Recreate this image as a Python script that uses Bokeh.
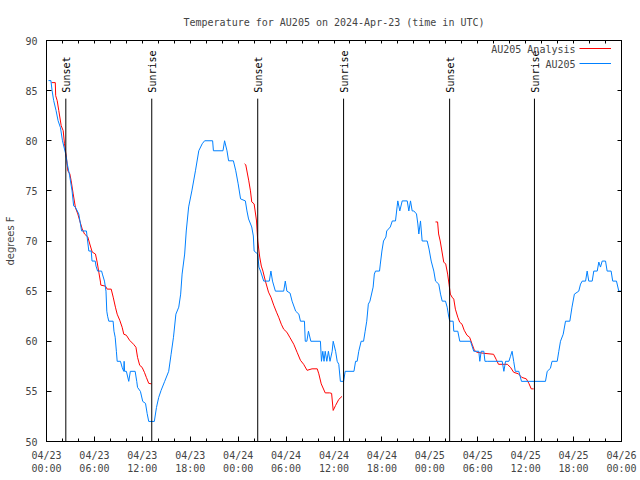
import numpy as np
from bokeh.plotting import figure
from bokeh.models import FixedTicker, LinearAxis, Range1d, Legend, LegendItem, Label
from bokeh.embed import file_html
from bokeh.resources import INLINE
from bokeh.core.properties import value

# hours since 2024-04-23 00:00 UTC
obs_hours = [0.25, 0.55, 0.7, 0.9, 1.2, 1.45, 1.75, 2.0, 2.4, 2.6, 2.9, 3.2, 3.4, 3.6, 4.04, 4.4, 5.0, 5.15,
             5.3, 5.6, 5.7, 6.1, 6.2, 6.4, 6.9, 7.0, 7.26, 7.45, 7.55, 7.65, 7.8, 8.34, 8.45, 8.6, 8.75, 8.85,
             9.26, 9.47, 9.67, 9.72, 9.78, 10.0, 10.3, 10.5, 11.1, 11.3, 11.4, 11.76, 12.05, 12.4, 12.6, 12.8,
             13.5, 13.77, 14.05, 14.35, 14.8, 15.3, 15.6, 15.9, 16.2, 16.56, 16.8, 16.98, 17.3, 17.5, 17.8,
             18.2, 18.65, 19.07, 19.5, 19.8, 20.8, 20.9, 22.1, 22.3, 22.6, 22.8, 23.4, 23.7, 24.0, 24.3, 24.9,
             25.1, 25.3, 25.7, 25.9, 26.0, 26.45, 26.6, 26.8, 27.2, 27.9, 28.1, 28.3, 28.66, 29.7, 29.9, 30.1,
             30.5, 30.75, 31.2, 31.6, 31.8, 32.3, 32.4, 32.6, 32.8, 33.1, 34.3, 34.43, 34.6, 34.75, 34.9, 35.1,
             35.3, 35.5, 35.77, 35.9, 36.2, 36.4, 36.6, 36.8, 37.2, 37.4, 38.5, 38.7, 38.9, 39.1, 39.4, 39.7,
             39.9, 40.1, 40.3, 40.5, 40.9, 41.05, 41.2, 41.7, 41.8, 42.0, 42.2, 42.5, 42.6, 43.05, 43.3, 43.7,
             43.9, 43.99, 44.24, 44.54, 45.17, 45.37, 45.58, 45.79, 45.99, 46.33, 46.5, 46.62, 46.83, 47.04,
             47.46, 47.67, 47.9, 48.17, 48.5, 48.71, 49.12, 49.34, 49.55, 49.96, 50.17, 50.38, 50.5, 50.92,
             51.0, 51.5, 51.75, 53.09, 53.5, 54.13, 54.26, 54.43, 54.76, 54.9, 55.18, 57.06, 57.27, 57.48,
             57.9, 58.1, 58.3, 58.5, 58.7, 59.14, 59.48, 62.48, 62.7, 63.1, 63.3, 63.95, 64.15, 64.36, 64.7,
             64.99, 65.53, 65.8, 66.1, 66.65, 66.87, 67.08, 67.5, 67.7, 67.9, 68.33, 68.53, 68.96, 69.16,
             69.37, 69.58, 70.0, 70.2, 70.7, 70.9, 71.37, 71.66, 71.95]
obs_temps = [86, 86, 85, 84, 83, 82, 81.3, 80, 78.7, 77.7, 76.5, 75, 73.5, 73.4, 72.7, 71, 71, 70,
             69, 69, 68, 68, 67.5, 67, 67, 66.7, 66, 65, 63, 62.5, 62, 62, 61, 60.4, 59, 58,
             58, 57.4, 57, 58, 57, 57, 56, 57, 57, 56, 55.4, 55, 54, 53.8, 52.8, 52,
             52, 53.4, 54.4, 55.1, 56, 57, 58.7, 60.4, 62.7, 63.4, 64.7, 66.7, 68.7, 71, 73.4,
             75, 77, 79, 79.7, 80, 80, 79, 79, 80, 79, 78, 78, 77, 75.7, 74.2, 74,
             73, 72.2, 71.4, 70.5, 69, 68.7, 67.4, 67, 66, 66, 67, 66, 65, 65, 66, 65,
             64.8, 64, 63, 62.7, 62, 62, 60, 60, 61, 60, 60, 58, 59, 58, 59, 58,
             59, 58, 59, 60, 59, 58, 57.7, 56, 56, 57, 57, 58, 58, 59, 60, 60,
             61, 62, 63.7, 64, 65.4, 66.7, 67, 67, 67.7, 69, 70, 70.4, 71, 71.4, 72, 72,
             73.4, 74, 73, 74, 74, 73, 74, 73, 73, 72.7, 71.7, 70.7, 72, 70,
             70, 70, 69.2, 68, 67, 66, 65.7, 64.7, 64, 64, 63.4, 62.4, 62, 62,
             61, 61, 60, 60, 59, 59, 58, 59, 59, 58, 58, 58, 57, 58,
             58, 58.5, 59, 58, 57, 57, 56, 56, 57, 57.3, 58, 58, 59, 60, 60.7,
             62, 62, 63.4, 64.7, 65, 65.7, 66, 66, 67, 66, 66, 67, 67, 67.9,
             67.4, 68, 68, 67, 67, 66, 66, 65, 65]

nan = float("nan")
ana_hours = [0.63, 1.1, 1.15, 1.34, 1.54, 1.84, 2.09, 2.25, 2.5, 2.67, 2.92, 3.09, 3.34, 3.63, 3.92, 4.17,
             4.47, 4.76, 5.17, 5.42, 5.72, 6.13, 6.34, 6.55, 6.76, 6.8, 7.38, 7.6, 8.1, 8.35, 8.63, 8.85,
             9.17, 9.47, 9.68, 10.0, 10.4, 10.9, 11.2, 11.4, 11.67, 11.97, 12.26, 12.5, 12.8, 13.14,
             18.0,
             24.8, 24.95, 25.33, 25.54, 25.7, 26.0, 26.3, 26.45, 26.7, 26.9, 27.1, 27.41, 27.8, 28.1, 28.45,
             28.8, 29.07, 29.4, 29.7, 30.1, 30.46, 30.96, 31.38, 31.8, 32.2, 32.63, 33.25, 33.9, 34.1, 34.4,
             34.9, 35.46, 35.7, 35.9, 36.2, 36.6, 37.0,
             42.0,
             48.71, 48.97, 49.1, 49.3, 49.53, 49.74, 49.99, 50.23, 50.4, 50.57, 50.78, 51.0, 51.2, 51.5,
             51.74, 52.03, 52.3, 52.65, 52.98, 53.3, 53.57, 53.9, 54.73, 55.98, 56.3, 56.6, 57.7, 58.1,
             58.5, 59.1, 59.5, 60.08, 60.4, 60.7, 61.0]
ana_temps = [85.8, 85.8, 84.5, 84, 83, 81.5, 81, 79.7, 78.3, 77, 76.7, 76, 74.7, 73.3, 72.7, 72,
             71.2, 70.7, 70.4, 69.7, 68.9, 68.7, 67.9, 66.9, 65.9, 65.6, 65.5, 65.2, 65.2, 64.4, 63.4, 62.7,
             62.1, 61.4, 60.7, 60.6, 60.1, 59.7, 59.4, 58.4, 57.6, 57.4, 56.9, 56.4, 55.8, 55.75,
             nan,
             77.7, 77.6, 76.0, 75.0, 73.9, 73.7, 72.0, 70, 68.4, 67.5, 67, 66, 64.9, 64.4, 63.6,
             62.9, 62.4, 61.7, 61.2, 60.9, 60.4, 59.7, 58.9, 58.1, 57.7, 57.1, 57.25, 57.25, 56.75, 55.75,
             54.85, 54.85, 54.8, 53.1, 53.6, 54.2, 54.5,
             nan,
             71.9, 71.9, 70.7, 70, 68.9, 67.9, 67.7, 66.7, 65.7, 64.7, 64.4, 64.2, 63.2, 62.4,
             61.9, 61.7, 61.1, 60.6, 60.4, 59.7, 59.1, 58.9, 58.8, 58.7, 58.2, 57.7, 57.7, 57.4,
             56.9, 56.75, 56.4, 56.25, 55.8, 55.25, 55.25]

event_hours = [2.42, 13.18, 26.45, 37.2, 50.48, 61.1]
event_names = ["Sunset", "Sunrise", "Sunset", "Sunrise", "Sunset", "Sunrise"]

x_tick_hours = [0, 6, 12, 18, 24, 30, 36, 42, 48, 54, 60, 66, 72]
x_tick_labels = ["04/23\n00:00", "04/23\n06:00", "04/23\n12:00", "04/23\n18:00", "04/24\n00:00",
                 "04/24\n06:00", "04/24\n12:00", "04/24\n18:00", "04/25\n00:00", "04/25\n06:00",
                 "04/25\n12:00", "04/25\n18:00", "04/26\n00:00"]
x_minor_hours = list(range(0, 73, 2))
y_ticks = [50, 55, 60, 65, 70, 75, 80, 85, 90]

MONO = "DejaVu Sans Mono"

p = figure(width=640, height=480, x_range=Range1d(0, 72), y_range=Range1d(50, 90),
           output_backend="svg", toolbar_location=None,
           title="Temperature for AU205 on 2024-Apr-23 (time in UTC)",
           min_border_left=46, min_border_right=19, min_border_top=40, min_border_bottom=39)
p.title.text_font = MONO
p.title.text_font_size = "10px"
p.title.text_font_style = "normal"
p.title.align = "center"
p.title.standoff = 25
p.xgrid.visible = False
p.ygrid.visible = False
p.outline_line_color = "black"
p.outline_line_alpha = 1
p.background_fill_color = "white"
p.border_fill_color = "white"

xa = p.xaxis[0]
xa.ticker = FixedTicker(ticks=x_tick_hours, minor_ticks=x_minor_hours)
xa.major_label_overrides = {h: l for h, l in zip(x_tick_hours, x_tick_labels)}
xa.major_label_text_font = MONO
xa.major_label_text_font_size = "10px"
xa.major_label_text_line_height = 1.25
xa.major_label_standoff = 8
xa.major_tick_in = 5
xa.major_tick_out = 0
xa.minor_tick_in = 3
xa.minor_tick_out = 0
xa.axis_line_color = "black"

ya = p.yaxis[0]
ya.ticker = FixedTicker(ticks=y_ticks, minor_ticks=[])
ya.major_label_text_font = MONO
ya.major_label_text_font_size = "10px"
ya.major_label_standoff = 9
ya.major_tick_in = 5
ya.major_tick_out = 0
ya.minor_tick_in = 0
ya.minor_tick_out = 0
ya.axis_label = "degrees F"
ya.axis_label_text_font = "DejaVu Sans"
ya.axis_label_text_font_size = "10px"
ya.axis_label_text_font_style = "normal"
ya.axis_label_standoff = 6

# mirrored tick marks (minor-only tickers, so no tick labels are drawn)
top_axis = LinearAxis(ticker=FixedTicker(ticks=[], minor_ticks=x_minor_hours),
                      major_tick_in=0, major_tick_out=0, minor_tick_in=3, minor_tick_out=0)
p.add_layout(top_axis, "above")
right_axis = LinearAxis(ticker=FixedTicker(ticks=[], minor_ticks=y_ticks),
                        major_tick_in=0, major_tick_out=0, minor_tick_in=4, minor_tick_out=0)
p.add_layout(right_axis, "right")

red = p.line(ana_hours, ana_temps, line_color="#ff0000", line_width=1)
blue = p.line(obs_hours, obs_temps, line_color="#0080ff", line_width=1)

p.segment(x0=event_hours, y0=[50] * len(event_hours), x1=event_hours, y1=[84.2] * len(event_hours),
          line_color="black", line_width=1)
p.text(x=event_hours, y=[84.8] * len(event_hours), text=event_names, angle=np.pi / 2,
       text_font=value(MONO), text_font_size="10px", text_align="left", text_baseline="middle",
       x_offset=1, text_color="black")

legend = Legend(items=[LegendItem(label=" ", renderers=[red]), LegendItem(label=" ", renderers=[blue])],
                location="top_right", margin=0, padding=2, spacing=3, glyph_height=12, glyph_width=32,
                label_width=0, label_standoff=8, label_text_font=MONO, label_text_font_size="10px",
                background_fill_alpha=0, border_line_alpha=0)
p.add_layout(legend)
p.add_layout(Label(x=66.24, y=89.1, text="AU205 Analysis", text_align="right", text_baseline="middle",
                   text_font=MONO, text_font_size="10px"))
p.add_layout(Label(x=66.24, y=87.6, text="AU205", text_align="right", text_baseline="middle",
                   text_font=MONO, text_font_size="10px"))

open("out.html", "w").write(file_html(p, INLINE))
